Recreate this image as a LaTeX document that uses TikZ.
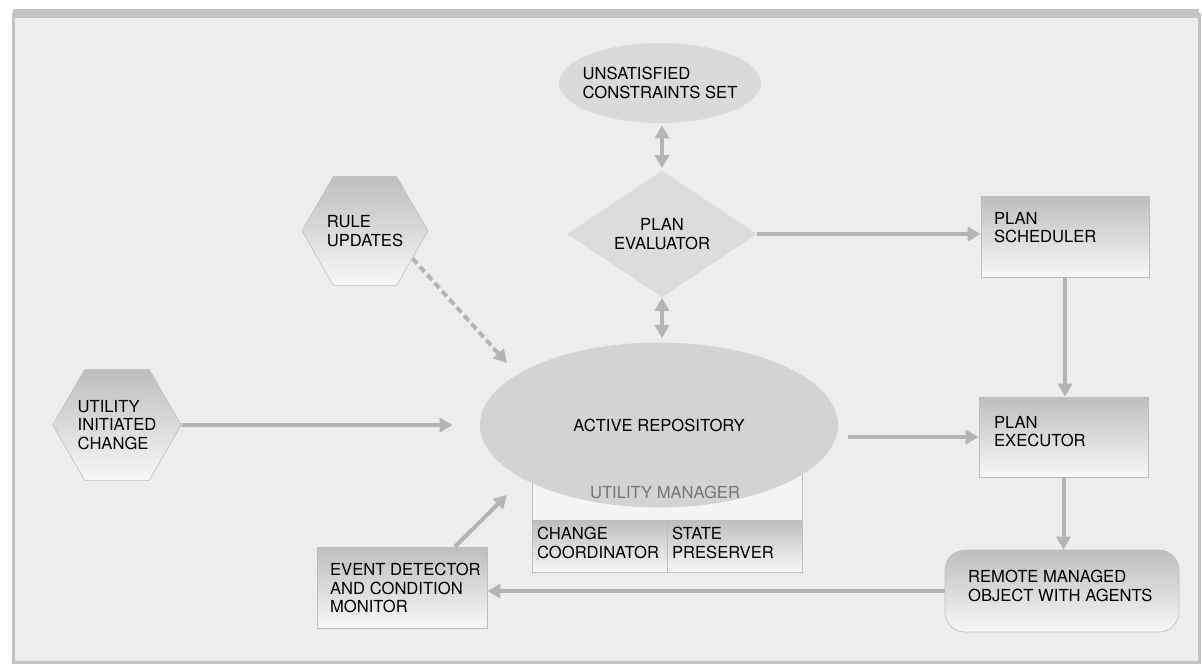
\documentclass[tikz,border=0pt]{standalone}
\usepackage{fontspec}
\setmainfont{TeX Gyre Heros}
\usetikzlibrary{shapes.geometric, arrows.meta, positioning, calc}
\definecolor{paper}{HTML}{EDEDED}
\definecolor{framegray}{HTML}{C4C4C4}
\definecolor{edgegray}{HTML}{BDBDBD}
\definecolor{shadetop}{HTML}{BEBEBE}
\definecolor{shadebot}{HTML}{F7F7F7}
\definecolor{blobgray}{HTML}{D3D3D3}
\definecolor{flowgray}{HTML}{B4B4B4}
\definecolor{labelgray}{HTML}{767676}

\tikzset{
  every node/.style={font=\fontsize{8.3}{9.3}\selectfont, text=black},
  flow/.style={draw=flowgray, line width=2pt, -{Triangle[length=6.5pt,width=7pt]}},
  twoway/.style={flow, {Triangle[length=6.5pt,width=7pt]}-{Triangle[length=6.5pt,width=7pt]}},
  dashflow/.style={flow, dash pattern=on 3.5pt off 2pt},
  hexnode/.style={regular polygon, regular polygon sides=6, minimum size=63pt, inner sep=0pt,
    draw=edgegray, line width=0.3pt, top color=shadetop, bottom color=shadebot, align=left},
  blob/.style={ellipse, fill=blobgray, inner sep=0pt},
  planbox/.style={rectangle, draw=edgegray, line width=0.3pt, top color=shadetop, bottom color=shadebot, inner sep=0pt},
  boxtext/.style={align=left, inner sep=0pt, anchor=north west}
}

\begin{document}
\begin{tikzpicture}[x=0.5pt, y=-0.5pt]
  \useasboundingbox (0,0) rectangle (1202,671);
  \fill[white] (0,0) rectangle (1202,671);
  % frame
  \draw[framegray, line width=1.5pt, fill=paper] (13,14) rectangle (1199,662);
  \fill[framegray] (13,9) rectangle (1199,18);

  % upper column
  \node[blob, fill=blobgray!85, inner xsep=-4pt, minimum width=101pt, minimum height=40pt, align=left] (unsat) at (660,83) {UNSATISFIED\\CONSTRAINTS SET};
  \node[diamond, fill=blobgray!80, inner sep=0pt, minimum width=95pt, minimum height=53.5pt, align=center] (eval) at (662,234) {PLAN\\EVALUATOR};
  \node[hexnode] (rule) at (365,231) {RULE\\UPDATES};
  \node[hexnode] (util) at (117,425) {UTILITY\\INITIATED\\CHANGE};

  % utility manager under the repository
  \node[rectangle, draw=edgegray, line width=0.3pt, fill=white!96!black, minimum width=135pt, minimum height=51pt] (um) at (667,521) {};
  \node[planbox, minimum width=67.5pt, minimum height=26pt] (cc) at (599.5,546) {};
  \node[planbox, minimum width=67.5pt, minimum height=26pt] (sp) at (734.5,546) {};
  \node[boxtext] (cctext) at ([xshift=2.5pt,yshift=-3.5pt]cc.north west) {CHANGE\\COORDINATOR};
  \node[boxtext] (sptext) at ([xshift=2.5pt,yshift=-3.5pt]sp.north west) {STATE\\PRESERVER};
  \node[blob, minimum width=179pt, minimum height=82.5pt] (repo) at (659,425) {ACTIVE REPOSITORY};
  \node[text=labelgray] (umtext) at (665,492) {UTILITY MANAGER};

  % right column
  \node[planbox, minimum width=84pt, minimum height=40.5pt] (sched) at (1065,236.5) {};
  \node[boxtext] (schedtext) at ([xshift=6.5pt,yshift=-8pt]sched.north west) {PLAN\\SCHEDULER};
  \node[planbox, minimum width=84.5pt, minimum height=40pt] (exec) at (1063.5,437) {};
  \node[boxtext] (exectext) at ([xshift=7.5pt,yshift=-9.5pt]exec.north west) {PLAN\\EXECUTOR};
  \node[planbox, rounded corners=10pt, minimum width=117pt, minimum height=41pt] (remote) at (1062,591) {};
  \node[boxtext] (remotetext) at ([xshift=11.5pt,yshift=-10pt]remote.north west) {REMOTE MANAGED\\OBJECT WITH AGENTS};
  \node[planbox, minimum width=85pt, minimum height=40.5pt] (event) at (402,587.5) {};
  \node[boxtext] (eventtext) at ([xshift=6.5pt,yshift=-8pt]event.north west) {EVENT DETECTOR\\AND CONDITION\\MONITOR};

  % connectors
  \coordinate (ruleend) at (507,363);
  \coordinate (eventend) at (507,495);
  \draw[twoway, shorten <=1pt, shorten >=1pt] (eval.north |- unsat.south) -- (eval.north);
  \draw[twoway, shorten >=2pt] (eval.south) -- (eval.south |- repo.north);
  \draw[flow] (eval.east) -- (eval.east -| sched.west);
  \draw[flow] (sched.south) -- (sched.south |- exec.north);
  \draw[flow, shorten <=5pt] (repo.east |- exec.west) -- (exec.west);
  \draw[flow] (exec.south) -- (exec.south |- remote.north);
  \draw[flow] (remote.west) -- (remote.west -| event.east);
  \draw[flow] ([xshift=26.5pt]event.north) -- (eventend);
  \draw[flow, shorten >=13.5pt] (util.east) -- (repo.west);
  \draw[dashflow] (rule.-30) -- (ruleend);
\end{tikzpicture}
\end{document}
